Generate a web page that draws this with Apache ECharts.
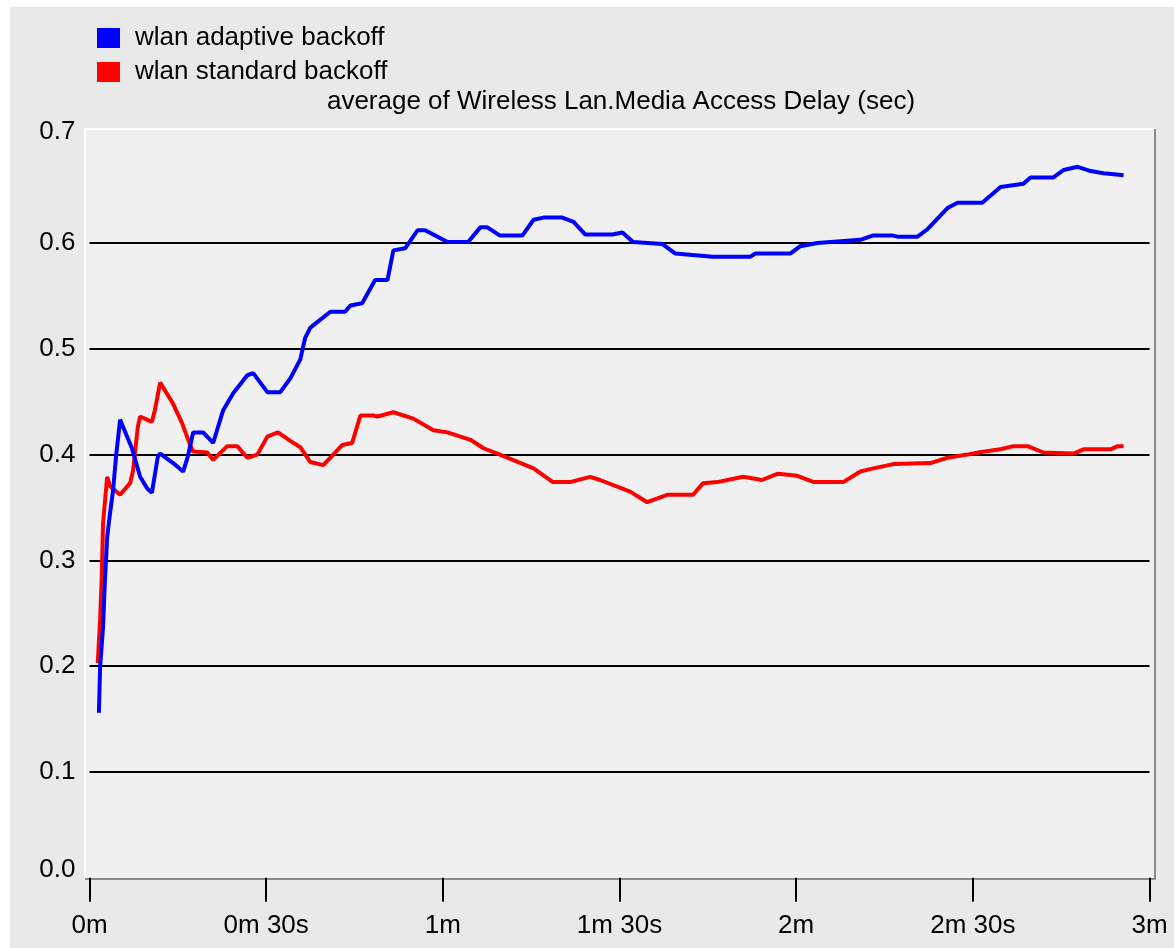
<!DOCTYPE html>
<html>
<head>
<meta charset="utf-8">
<script src="https://cdn.jsdelivr.net/npm/echarts@6/dist/echarts.min.js"></script>
<style>
  html, body { margin: 0; padding: 0; background: #ffffff; }
  #chart { width: 1174px; height: 948px; }
</style>
</head>
<body>
<div id="chart"></div>
<script>
// Simulation time (seconds) and running average of media access delay (sec)
const adaptiveTime = [1.6, 1.8, 2.3, 2.6, 3.0, 3.5, 4.0, 4.5, 5.2, 7.2, 8.6, 9.8, 10.6, 11.6, 12.0, 14.2, 15.9, 16.7, 17.6, 19.3, 21.0, 22.7, 24.4, 26.8, 27.8, 30.2, 32.4, 34.1, 35.8, 36.6, 37.5, 40.9, 43.4, 44.3, 46.3, 48.5, 50.6, 51.6, 53.6, 55.7, 57.0, 60.8, 64.3, 66.4, 67.5, 69.7, 73.5, 75.4, 77.1, 80.3, 82.2, 84.2, 88.8, 90.5, 92.3, 97.3, 99.5, 105.8, 112.2, 113.1, 119.0, 120.7, 123.6, 130.9, 133.0, 136.4, 137.2, 140.6, 142.3, 145.7, 147.4, 151.6, 154.7, 158.6, 159.8, 163.7, 165.4, 167.8, 170.0, 172.2, 175.6];
const adaptiveDelay = [0.156, 0.199, 0.237, 0.279, 0.322, 0.345, 0.366, 0.398, 0.433, 0.406, 0.379, 0.368, 0.364, 0.398, 0.401, 0.392, 0.384, 0.398, 0.421, 0.421, 0.411, 0.442, 0.458, 0.475, 0.477, 0.459, 0.459, 0.472, 0.490, 0.510, 0.520, 0.535, 0.535, 0.541, 0.543, 0.565, 0.565, 0.593, 0.595, 0.612, 0.612, 0.601, 0.601, 0.615, 0.615, 0.607, 0.607, 0.622, 0.624, 0.624, 0.620, 0.608, 0.608, 0.610, 0.601, 0.599, 0.590, 0.587, 0.587, 0.590, 0.590, 0.597, 0.600, 0.603, 0.607, 0.607, 0.606, 0.606, 0.613, 0.633, 0.638, 0.638, 0.653, 0.656, 0.662, 0.662, 0.669, 0.672, 0.668, 0.666, 0.664];

const standardTime = [1.4, 1.8, 2.1, 2.3, 3.0, 3.5, 5.2, 6.9, 7.4, 8.2, 8.6, 10.6, 11.1, 12.0, 14.2, 15.7, 17.1, 17.6, 20.0, 21.0, 23.4, 25.1, 26.8, 28.5, 30.2, 32.0, 34.1, 35.8, 37.5, 39.7, 41.4, 42.9, 44.6, 46.0, 48.2, 48.9, 51.6, 55.0, 58.4, 60.8, 64.7, 66.9, 69.7, 75.4, 78.7, 81.6, 85.0, 86.7, 91.8, 94.7, 98.1, 102.5, 104.2, 106.6, 111.0, 114.2, 116.9, 120.2, 123.0, 128.0, 130.9, 133.1, 136.5, 142.8, 145.7, 149.1, 150.9, 154.7, 156.9, 159.3, 162.0, 167.1, 168.8, 173.4, 174.6, 175.6];
const standardDelay = [0.203, 0.244, 0.288, 0.335, 0.379, 0.370, 0.362, 0.373, 0.385, 0.426, 0.436, 0.431, 0.442, 0.468, 0.448, 0.430, 0.409, 0.403, 0.402, 0.395, 0.408, 0.408, 0.397, 0.400, 0.417, 0.421, 0.413, 0.407, 0.393, 0.390, 0.400, 0.409, 0.411, 0.437, 0.437, 0.436, 0.440, 0.434, 0.423, 0.421, 0.414, 0.406, 0.400, 0.387, 0.374, 0.374, 0.379, 0.376, 0.365, 0.355, 0.362, 0.362, 0.373, 0.374, 0.379, 0.376, 0.382, 0.380, 0.374, 0.374, 0.384, 0.387, 0.391, 0.392, 0.397, 0.400, 0.402, 0.405, 0.408, 0.408, 0.402, 0.401, 0.405, 0.405, 0.408, 0.408];

const seriesNames = ['wlan adaptive backoff', 'wlan standard backoff'];
const xTickLabels = ['0m', '0m 30s', '1m', '1m 30s', '2m', '2m 30s', '3m'];
const yTickLabels = ['0.0', '0.1', '0.2', '0.3', '0.4', '0.5', '0.6', '0.7'];
const chartTitle = 'average of Wireless Lan.Media Access Delay (sec)';

const FONT = "'Liberation Sans', Arial, sans-serif";
const FS = 26;

function pairs(xs, ys) { return xs.map((x, i) => [x, ys[i]]); }

// plot panel box (background + sunken border)
const PX0 = 85, PY0 = 129, PX1 = 1155, PY1 = 879;

const chart = echarts.init(document.getElementById('chart'), null, { renderer: 'canvas' });
chart.setOption({
  backgroundColor: '#ffffff',
  animation: false,
  textStyle: { fontFamily: FONT },
  graphic: [
    { type: 'rect', z: -10, silent: true, shape: { x: 10, y: 7, width: 1164, height: 941 }, style: { fill: '#e9e9e9' } },
    { type: 'rect', z: -9, silent: true, shape: { x: PX0, y: PY0, width: PX1 - PX0, height: PY1 - PY0 }, style: { fill: '#f0f0f0' } },
    { type: 'polyline', z: -8, silent: true, shape: { points: [[PX0, PY1], [PX0, PY0], [PX1, PY0]] }, style: { stroke: '#ffffff', lineWidth: 2, fill: null } },
    { type: 'polyline', z: -8, silent: true, shape: { points: [[PX0, PY1], [PX1, PY1], [PX1, PY0]] }, style: { stroke: '#8a8a8a', lineWidth: 2, fill: null } }
  ],
  title: {
    text: chartTitle,
    left: 621,
    top: 89,
    textAlign: 'center',
    padding: 0,
    textStyle: { fontFamily: FONT, fontSize: FS, fontWeight: 'normal', color: '#000000', lineHeight: 26 }
  },
  legend: {
    orient: 'vertical',
    left: 97,
    top: 25,
    padding: 0,
    itemWidth: 23,
    itemHeight: 20,
    itemGap: 8,
    icon: 'rect',
    data: seriesNames,
    textStyle: { fontFamily: FONT, fontSize: FS, color: '#000000', padding: [0, 0, 0, 10] }
  },
  grid: { left: 89.5, right: 24.5, top: 137.2, bottom: 70.2, containLabel: false },
  xAxis: {
    type: 'value',
    min: 0,
    max: 180,
    interval: 30,
    offset: 5,
    axisLine: { show: false },
    axisTick: { show: true, length: 24, lineStyle: { color: '#000000', width: 2 } },
    splitLine: { show: false },
    axisLabel: {
      margin: 30,
      fontFamily: FONT,
      fontSize: FS,
      color: '#000000',
      formatter: v => xTickLabels[Math.round(v / 30)]
    }
  },
  yAxis: {
    type: 'value',
    min: 0,
    max: 0.7,
    interval: 0.1,
    axisLine: { show: false },
    axisTick: { show: false },
    splitLine: { show: true, showMinLine: false, showMaxLine: false, lineStyle: { color: '#000000', width: 2 } },
    axisLabel: {
      margin: 14,
      fontFamily: FONT,
      fontSize: FS,
      color: '#000000',
      formatter: v => {
        const i = Math.round(v * 10);
        if (i === 0) return '{lo|' + yTickLabels[i] + '}';
        if (i === 7) return '{hi|' + yTickLabels[i] + '}';
        return yTickLabels[i];
      },
      rich: {
        lo: { fontFamily: FONT, fontSize: FS, color: '#000000', padding: [0, 0, 16, 0] },
        hi: { fontFamily: FONT, fontSize: FS, color: '#000000', padding: [0, 0, 10, 0] }
      }
    }
  },
  series: [
    {
      name: seriesNames[0],
      type: 'line',
      z: 4,
      showSymbol: false,
      color: '#0000ff',
      lineStyle: { color: '#0000ff', width: 4 },
      data: pairs(adaptiveTime, adaptiveDelay)
    },
    {
      name: seriesNames[1],
      type: 'line',
      z: 3,
      showSymbol: false,
      color: '#ff0000',
      lineStyle: { color: '#ff0000', width: 4 },
      data: pairs(standardTime, standardDelay)
    }
  ]
});
</script>
</body>
</html>
